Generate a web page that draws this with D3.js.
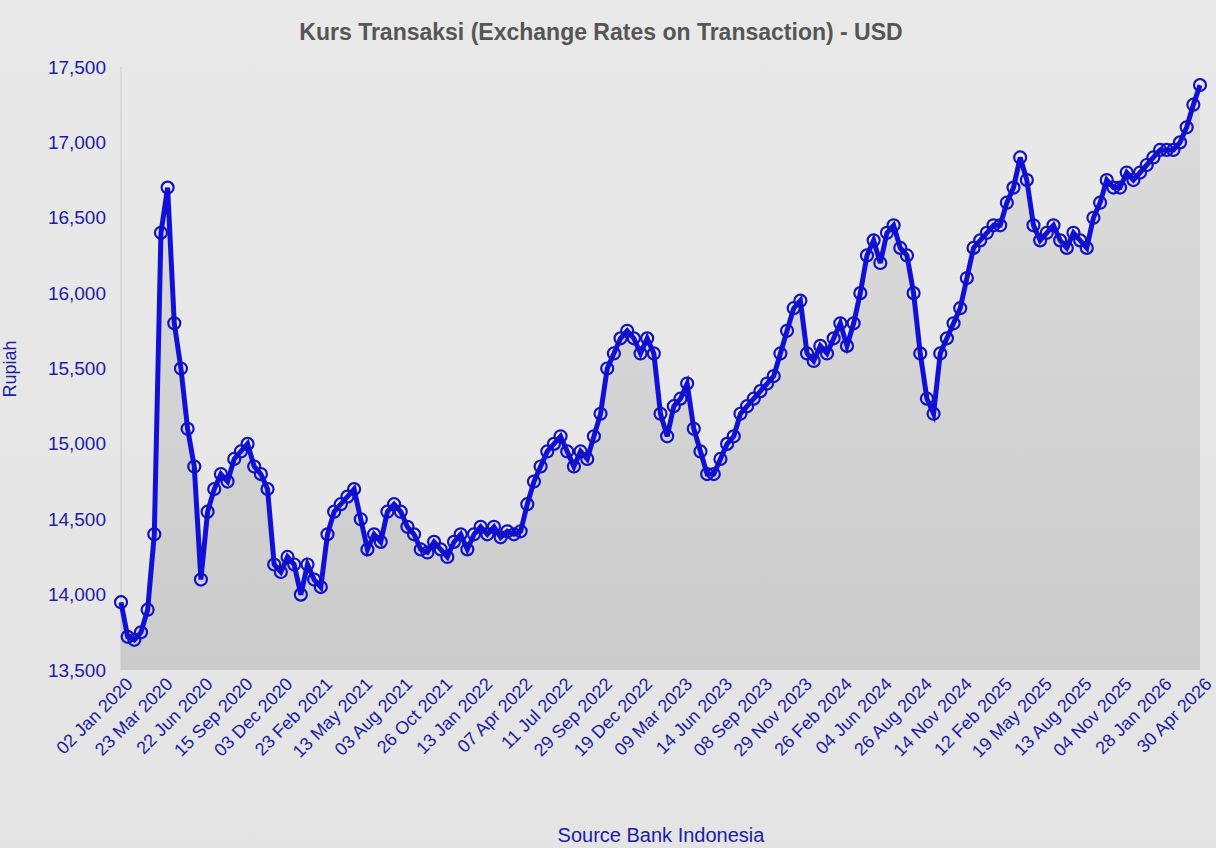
<!DOCTYPE html>
<html>
<head>
<meta charset="utf-8">
<script src="https://cdn.jsdelivr.net/npm/d3@7"></script>
<style>
body { margin: 0; background: #e8e8e8; }
text { font-family: "Liberation Sans", Arial, sans-serif; }
</style>
</head>
<body>
<script>
// tick labels, one every 6 points
var tickLabels = ["02 Jan 2020","23 Mar 2020","22 Jun 2020","15 Sep 2020","03 Dec 2020","23 Feb 2021",
  "13 May 2021","03 Aug 2021","26 Oct 2021","13 Jan 2022","07 Apr 2022","11 Jul 2022","29 Sep 2022",
  "19 Dec 2022","09 Mar 2023","14 Jun 2023","08 Sep 2023","29 Nov 2023","26 Feb 2024","04 Jun 2024",
  "26 Aug 2024","14 Nov 2024","12 Feb 2025","19 May 2025","13 Aug 2025","04 Nov 2025","28 Jan 2026","30 Apr 2026"]
var step = 6

// rupiah per USD
var rates = [
  13950,13720,13700,13750,13900,14400,
  16400,16700,15800,15500,15100,14850,
  14100,14550,14700,14800,14750,14900,
  14950,15000,14850,14800,14700,14200,
  14150,14250,14200,14000,14200,14100,
  14050,14400,14550,14600,14650,14700,
  14500,14300,14400,14350,14550,14600,
  14550,14450,14400,14300,14280,14350,
  14300,14250,14350,14400,14300,14400,
  14450,14400,14450,14380,14420,14400,
  14420,14600,14750,14850,14950,15000,
  15050,14950,14850,14950,14900,15050,
  15200,15500,15600,15700,15750,15700,
  15600,15700,15600,15200,15050,15250,
  15300,15400,15100,14950,14800,14800,
  14900,15000,15050,15200,15250,15300,
  15350,15400,15450,15600,15750,15900,
  15950,15600,15550,15650,15600,15700,
  15800,15650,15800,16000,16250,16350,
  16200,16400,16450,16300,16250,16000,
  15600,15300,15200,15600,15700,15800,
  15900,16100,16300,16350,16400,16450,
  16450,16600,16700,16900,16750,16450,
  16350,16400,16450,16350,16300,16400,
  16350,16300,16500,16600,16750,16700,
  16700,16800,16750,16800,16850,16900,
  16950,16950,16950,17000,17100,17250,
  17380]
var yTicks = [13500,14000,14500,15000,15500,16000,16500,17000,17500]

var W = 1216, H = 848
var m = {left: 121, right: 16, top: 67, bottom: 178}

var svg = d3.select("body").append("svg").attr("width", W).attr("height", H)

var defs = svg.append("defs")
var bg = defs.append("linearGradient").attr("id", "bg").attr("x1", 0).attr("y1", 0).attr("x2", 0).attr("y2", 1)
bg.append("stop").attr("offset", "0%").attr("stop-color", "#e9e9e9")
bg.append("stop").attr("offset", "100%").attr("stop-color", "#e4e4e4")
var ar = defs.append("linearGradient").attr("id", "ar").attr("x1", 0).attr("y1", 0).attr("x2", 0).attr("y2", 1)
ar.append("stop").attr("offset", "0%").attr("stop-color", "#dcdcdc")
ar.append("stop").attr("offset", "100%").attr("stop-color", "#cbcbcb")

svg.append("rect").attr("width", W).attr("height", H).attr("fill", "url(#bg)")

var x = d3.scaleLinear().domain([0, (tickLabels.length - 1) * step]).range([m.left, W - m.right])
var y = d3.scaleLinear().domain([13500, 17500]).range([H - m.bottom, m.top])

// area
svg.append("path").datum(rates)
  .attr("fill", "url(#ar)")
  .attr("d", d3.area().x(function(d, i) { return x(i) }).y0(y(13500)).y1(function(d) { return y(d) }))

// left axis line
svg.append("line").attr("x1", m.left).attr("x2", m.left).attr("y1", m.top).attr("y2", H - m.bottom)
  .attr("stroke", "#c8c8c8")

// y axis
var ya = svg.append("g").attr("transform", "translate(" + (m.left - 12) + ",0)")
  .call(d3.axisLeft(y).tickValues(yTicks).tickSize(0).tickFormat(d3.format(",")))
ya.select(".domain").remove()
ya.selectAll("text").attr("fill", "#1c1ca8").style("font-size", "19px")

// x axis
var xa = svg.append("g").attr("transform", "translate(0," + (H - m.bottom + 8) + ")")
  .call(d3.axisBottom(x).tickValues(d3.range(tickLabels.length).map(function(i) { return i * step }))
    .tickSize(0).tickFormat(function(d) { return tickLabels[d / step] }))
xa.select(".domain").remove()
xa.selectAll("text").attr("fill", "#1c1ca8").style("font-size", "18px")
  .attr("text-anchor", "end").attr("transform", "rotate(-45)").attr("dx", "0.2em").attr("dy", "0.6em")

// line
svg.append("path").datum(rates)
  .attr("fill", "none").attr("stroke", "#1010d8").attr("stroke-width", 5)
  .attr("d", d3.line().x(function(d, i) { return x(i) }).y(function(d) { return y(d) }))

// markers
svg.selectAll("circle.pt").data(rates).enter().append("circle")
  .attr("class", "pt")
  .attr("cx", function(d, i) { return x(i) })
  .attr("cy", function(d) { return y(d) })
  .attr("r", 6)
  .attr("fill", "none").attr("stroke", "#1010c8").attr("stroke-width", 2.2)

// titles
svg.append("text").attr("x", 601).attr("y", 40).attr("text-anchor", "middle")
  .attr("fill", "#555").style("font-size", "23px").style("font-weight", "bold")
  .text("Kurs Transaksi (Exchange Rates on Transaction) - USD")
svg.append("text").attr("transform", "translate(16,369) rotate(-90)").attr("text-anchor", "middle")
  .attr("fill", "#1c1ca8").style("font-size", "18px").text("Rupiah")
svg.append("text").attr("x", 661).attr("y", 842).attr("text-anchor", "middle")
  .attr("fill", "#1c1ca8").style("font-size", "20px").text("Source Bank Indonesia")
</script>
</body>
</html>
